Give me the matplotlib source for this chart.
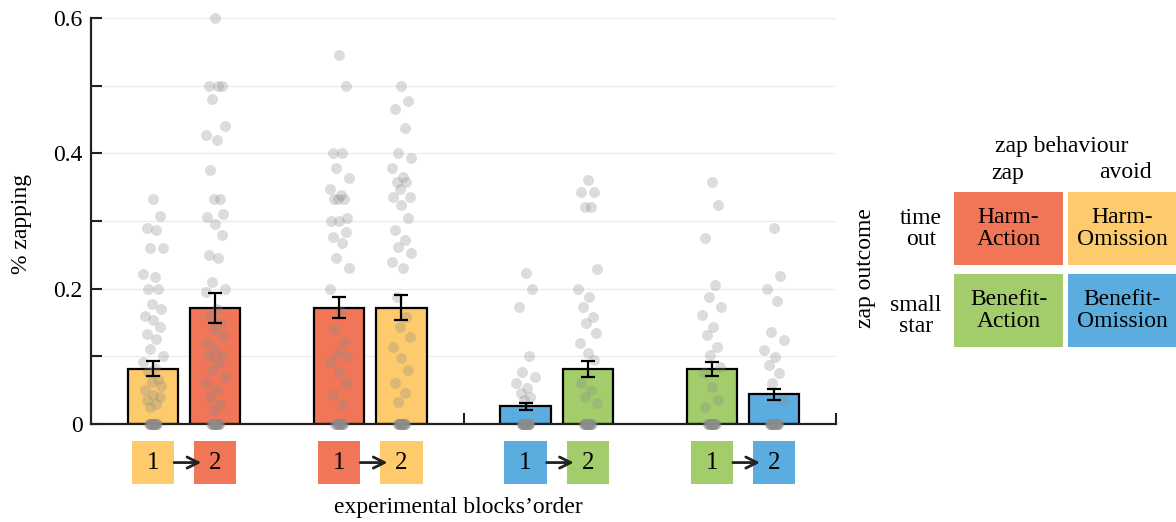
import matplotlib
matplotlib.use('Agg')
import matplotlib.pyplot as plt
from matplotlib.patches import Rectangle

plt.rcParams['font.family'] = ['Liberation Serif', 'DejaVu Serif']

RED = '#F07657'
YEL = '#FDCB6B'
GRN = '#A3CD6B'
BLU = '#5BADE0'

# ---- data ----
bar_colors = [YEL, RED, RED, YEL, BLU, GRN, GRN, BLU]
bar_means = [0.082, 0.171, 0.172, 0.172, 0.026, 0.081, 0.081, 0.044]
bar_sems = [0.011, 0.022, 0.016, 0.018, 0.005, 0.012, 0.010, 0.008]

pts_1 = [0.333, 0.308, 0.29, 0.286, 0.26, 0.26, 0.222, 0.217, 0.2, 0.2, 0.178, 0.17,
         0.16, 0.154, 0.143, 0.133, 0.125, 0.111, 0.1, 0.091, 0.083, 0.077, 0.067,
         0.062, 0.056, 0.05, 0.043, 0.04, 0.036, 0.03, 0.025]
pts_2 = [0.6, 0.5, 0.5, 0.5, 0.48, 0.44, 0.427, 0.42, 0.375, 0.333, 0.333, 0.31, 0.306,
         0.296, 0.28, 0.25, 0.245, 0.21, 0.2, 0.195, 0.17, 0.16, 0.15, 0.14, 0.13, 0.12,
         0.11, 0.1, 0.1, 0.09, 0.08, 0.07, 0.06, 0.05, 0.04, 0.03, 0.02]
pts_3 = [0.546, 0.5, 0.4, 0.4, 0.378, 0.364, 0.348, 0.338, 0.333, 0.333, 0.333, 0.304,
         0.3, 0.3, 0.284, 0.276, 0.267, 0.245, 0.23, 0.2, 0.166, 0.14, 0.121, 0.105,
         0.1, 0.092, 0.077, 0.06, 0.043, 0.028]
pts_4 = [0.5, 0.478, 0.465, 0.438, 0.4, 0.393, 0.378, 0.365, 0.357, 0.357, 0.348, 0.336,
         0.336, 0.323, 0.304, 0.287, 0.272, 0.262, 0.252, 0.239, 0.23, 0.188, 0.158,
         0.143, 0.128, 0.114, 0.097, 0.08, 0.06, 0.046, 0.033]
pts_5 = [0.223, 0.2, 0.173, 0.1, 0.077, 0.07, 0.06, 0.053, 0.046, 0.04, 0.035]
pts_6 = [0.36, 0.343, 0.343, 0.32, 0.32, 0.229, 0.2, 0.188, 0.173, 0.158, 0.15, 0.134,
         0.12, 0.105, 0.095, 0.06, 0.05, 0.04, 0.031]
pts_7 = [0.357, 0.323, 0.275, 0.205, 0.188, 0.173, 0.161, 0.143, 0.131, 0.114, 0.102,
         0.084, 0.075, 0.055, 0.035, 0.025]
pts_8 = [0.29, 0.219, 0.2, 0.182, 0.136, 0.124, 0.109, 0.099, 0.087, 0.075, 0.06, 0.035]
zero_counts = [18, 16, 14, 16, 22, 18, 18, 20]
all_pts = [pts_1, pts_2, pts_3, pts_4, pts_5, pts_6, pts_7, pts_8]

y_ticks = [0, 0.2, 0.4, 0.6]
y_ticklabels = ['0', '0.2', '0.4', '0.6']
y_minor = [0.1, 0.3, 0.5]

order_labels = ['1', '2']

W, H = 1176, 522


def fx(x):
    return x / W


def fy(y):
    return 1 - y / H


fig = plt.figure(figsize=(W / 100, H / 100), dpi=100)
ax = fig.add_axes([fx(91), fy(424), (836 - 91) / W, (424 - 18) / H])

pos = []
for g in range(4):
    pos += [g - 0.167, g + 0.167]

ax.bar(pos, bar_means, width=0.27, color=bar_colors, edgecolor='black',
       linewidth=1.6, zorder=2)

pattern = [0, 0.035, -0.035, 0.017, -0.017, 0.052, -0.052, 0.008, -0.026,
           0.026, -0.008, 0.044, -0.044]
for i, vals in enumerate(all_pts):
    xs = [pos[i] + pattern[k % len(pattern)] for k in range(len(vals))]
    ax.scatter(xs, vals, s=62, color='#8c8c8c', alpha=0.3, linewidths=0,
               zorder=3, clip_on=False)
    zx = [pos[i] + 0.4 * pattern[k % len(pattern)] for k in range(zero_counts[i])]
    ax.scatter(zx, [0] * zero_counts[i], s=62, color='#8c8c8c', alpha=0.3,
               linewidths=0, zorder=3, clip_on=False)

ax.errorbar(pos, bar_means, yerr=bar_sems, fmt='none', ecolor='black',
            elinewidth=1.6, capsize=5, capthick=1.6, zorder=4)

ax.set_xlim(-0.5, 3.5)
ax.set_ylim(0, 0.6)
ax.set_yticks(y_ticks)
ax.set_yticklabels(y_ticklabels, fontsize=17)
ax.set_yticks(y_minor, minor=True)
ax.set_xticks([1.5, 3.5])
ax.set_xticklabels([])
ax.tick_params(axis='both', which='both', direction='in', length=8, width=1.5,
               color='#222222', pad=6)
ax.grid(axis='y', which='both', color='#ececec', lw=1.0, zorder=0)
ax.set_axisbelow(True)
for s in ['top', 'right']:
    ax.spines[s].set_visible(False)
for s in ['left', 'bottom']:
    ax.spines[s].set_linewidth(1.6)
    ax.spines[s].set_color('#222222')

# order boxes below axis
tr = ax.get_xaxis_transform()
bw = 0.226
by0, bh = -0.148, 0.106
for i, p in enumerate(pos):
    ax.add_patch(Rectangle((p - bw / 2, by0), bw, bh, transform=tr,
                           facecolor=bar_colors[i], edgecolor='none',
                           clip_on=False, zorder=1))
    ax.text(p, by0 + bh / 2, order_labels[i % 2], transform=tr, ha='center',
            va='center', fontsize=18)
for g in range(4):
    a, b = pos[2 * g], pos[2 * g + 1]
    ax.annotate('', xy=(b - bw / 2 + 0.038, by0 + bh / 2),
                xytext=(a + bw / 2, by0 + bh / 2),
                xycoords=tr, textcoords=tr,
                arrowprops=dict(arrowstyle='->', lw=2.0, color='#222222',
                                shrinkA=0, shrinkB=0, mutation_scale=20),
                annotation_clip=False, zorder=5)

fig.text(fx(458), fy(508), 'experimental blocks\u2019order', ha='center',
         va='center', fontsize=17)
fig.text(fx(22), fy(224), '% zapping', rotation=90, ha='center', va='center',
         fontsize=17)

# legend matrix
boxes = [
    (954, 192, 1063, 265, RED, 'Harm-\nAction'),
    (1068, 192, 1176, 265, YEL, 'Harm-\nOmission'),
    (954, 274, 1063, 347, GRN, 'Benefit-\nAction'),
    (1068, 274, 1176, 347, BLU, 'Benefit-\nOmission'),
]
for x0, y0, x1, y1, c, t in boxes:
    fig.add_artist(Rectangle((fx(x0), fy(y1)), (x1 - x0) / W, (y1 - y0) / H,
                             transform=fig.transFigure, facecolor=c,
                             edgecolor='none'))
    fig.text(fx((x0 + x1) / 2), fy((y0 + y1) / 2), t, ha='center', va='center',
             fontsize=17, linespacing=1.05)

fig.text(fx(1062), fy(147), 'zap behaviour', ha='center', va='center', fontsize=17)
fig.text(fx(1008), fy(173), 'zap', ha='center', va='center', fontsize=17)
fig.text(fx(1125), fy(173), 'avoid', ha='center', va='center', fontsize=17)
fig.text(fx(921), fy(229), 'time\nout', ha='center', va='center', fontsize=17,
         linespacing=1.05)
fig.text(fx(916), fy(316), 'small\nstar', ha='center', va='center', fontsize=17,
         linespacing=1.05)
fig.text(fx(866), fy(268), 'zap outcome', rotation=90, ha='center', va='center',
         fontsize=17)

fig.savefig('out.png', dpi=100)
